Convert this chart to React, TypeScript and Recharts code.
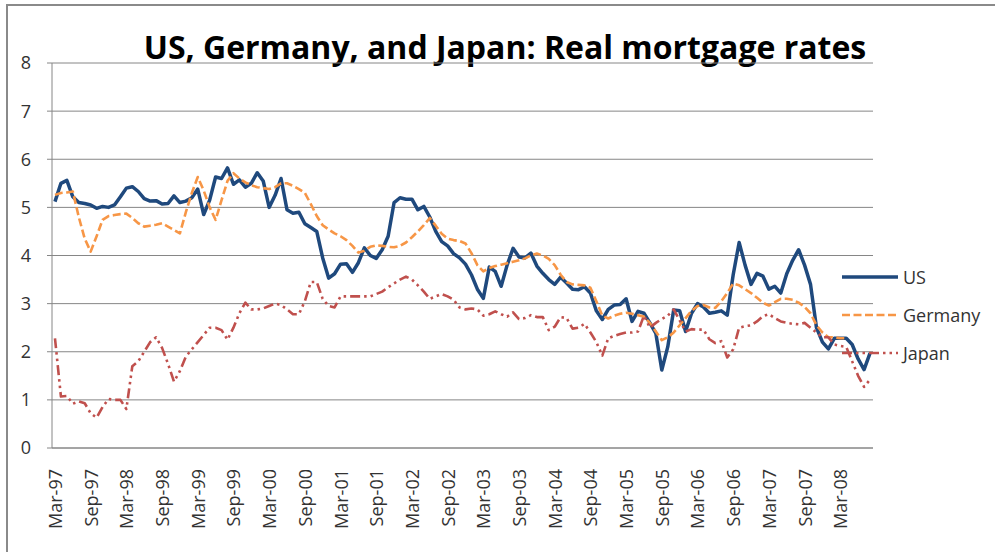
import { LineChart, Line, XAxis, YAxis, CartesianGrid, Legend } from 'recharts';

// monthly, Mar-97 .. Aug-08 (138 months)
const usRates = [
  5.12, 5.5, 5.56, 5.22, 5.1, 5.08, 5.05, 4.98, 5.02, 5.0, 5.05, 5.22,
  5.4, 5.43, 5.33, 5.18, 5.13, 5.14, 5.07, 5.08, 5.24, 5.1, 5.13, 5.2,
  5.38, 4.85, 5.15, 5.63, 5.6, 5.82, 5.48, 5.57, 5.42, 5.5, 5.72, 5.55,
  5.0, 5.25, 5.6, 4.95, 4.88, 4.9, 4.66, 4.58, 4.5, 3.95, 3.53, 3.62,
  3.82, 3.83, 3.65, 3.85, 4.16, 4.0, 3.94, 4.12, 4.4, 5.1, 5.2, 5.17,
  5.17, 4.95, 5.02, 4.8, 4.5, 4.29, 4.2, 4.04, 3.95, 3.82, 3.6, 3.3,
  3.11, 3.76, 3.67, 3.36, 3.8, 4.15, 3.97, 3.95, 4.05, 3.78, 3.63, 3.5,
  3.4, 3.55, 3.43, 3.3, 3.29, 3.35, 3.22, 2.85, 2.67, 2.88, 2.97, 2.98,
  3.1, 2.63, 2.84, 2.8, 2.6, 2.38, 1.62, 2.1, 2.87, 2.85, 2.42, 2.8,
  3.0, 2.93, 2.8, 2.82, 2.85, 2.76, 3.6, 4.27, 3.8, 3.4, 3.63, 3.57,
  3.3, 3.36, 3.22, 3.62, 3.9, 4.12, 3.8, 3.4, 2.5, 2.2, 2.06, 2.28,
  2.28, 2.28, 2.15, 1.85, 1.63, 1.97,
];

const germanyRates = [
  5.26, 5.3, 5.31, 5.33, 4.8, 4.35, 4.08, 4.4, 4.74, 4.82, 4.84, 4.86,
  4.87, 4.78, 4.67, 4.6, 4.62, 4.64, 4.67, 4.6, 4.53, 4.46, 4.9, 5.3,
  5.63, 5.35, 5.0, 4.74, 5.15, 5.55, 5.71, 5.6, 5.52, 5.46, 5.42, 5.4,
  5.38, 5.42, 5.5, 5.5, 5.45, 5.38, 5.3, 5.07, 4.82, 4.63, 4.54, 4.46,
  4.4, 4.32, 4.2, 4.06, 4.1, 4.18, 4.21, 4.2, 4.18, 4.17, 4.2, 4.27,
  4.38, 4.5, 4.63, 4.78, 4.62, 4.45, 4.35, 4.32, 4.3, 4.25, 4.05, 3.8,
  3.67, 3.74, 3.78, 3.81, 3.84, 3.87, 3.9, 3.94, 4.0, 4.04, 4.0, 3.93,
  3.8, 3.6, 3.45, 3.4, 3.39, 3.38, 3.33, 3.05, 2.75, 2.69, 2.75, 2.79,
  2.81, 2.79, 2.76, 2.73, 2.6, 2.42, 2.24, 2.3, 2.4, 2.55, 2.7, 2.85,
  2.95, 2.97, 2.92, 2.91, 3.05, 3.22, 3.42, 3.38, 3.3, 3.22, 3.12, 3.02,
  2.96, 3.03, 3.1, 3.1, 3.08, 3.02, 2.93, 2.8, 2.55, 2.4, 2.3, 2.3,
  2.28, 2.28, null, null, null, null,
];

const japanRates = [
  2.28, 1.07, 1.08, 0.92, 0.97, 0.93, 0.72, 0.63, 0.85, 1.02, 1.0, 1.0,
  0.81, 1.7, 1.8, 2.0, 2.2, 2.3, 2.08, 1.75, 1.38, 1.6, 1.9, 2.05,
  2.2, 2.35, 2.5, 2.5, 2.45, 2.25, 2.5, 2.8, 3.02, 2.88, 2.88, 2.9,
  2.95, 3.0, 2.97, 2.88, 2.78, 2.78, 3.05, 3.45, 3.45, 3.1, 2.95, 2.92,
  3.15, 3.15, 3.15, 3.15, 3.15, 3.15, 3.2, 3.25, 3.34, 3.42, 3.5, 3.56,
  3.5, 3.38, 3.25, 3.1, 3.15, 3.2, 3.15, 3.08, 2.92, 2.88, 2.9, 2.88,
  2.75, 2.78, 2.84, 2.78, 2.73, 2.82, 2.68, 2.7, 2.76, 2.72, 2.72, 2.45,
  2.52, 2.72, 2.7, 2.48, 2.5, 2.58, 2.4, 2.2, 1.92, 2.28, 2.33, 2.37,
  2.4, 2.4, 2.42, 2.75, 2.5, 2.6, 2.68, 2.75, 2.88, 2.65, 2.42, 2.47,
  2.46, 2.46, 2.26, 2.18, 2.22, 1.88, 2.05, 2.5, 2.53, 2.55, 2.63, 2.74,
  2.78, 2.7, 2.63, 2.6, 2.58, 2.57, 2.6, 2.5, 2.4, 2.3, 2.3, 2.15,
  2.12, 2.1, 1.8, 1.5, 1.27, 1.42,
];

// one label every 6 months
const monthLabels = [
  'Mar-97', 'Sep-97', 'Mar-98', 'Sep-98', 'Mar-99', 'Sep-99', 'Mar-00', 'Sep-00',
  'Mar-01', 'Sep-01', 'Mar-02', 'Sep-02', 'Mar-03', 'Sep-03', 'Mar-04', 'Sep-04',
  'Mar-05', 'Sep-05', 'Mar-06', 'Sep-06', 'Mar-07', 'Sep-07', 'Mar-08',
];

const yTicks = [0, 1, 2, 3, 4, 5, 6, 7, 8];

const FONT = '"Open Sans", sans-serif';
const GRID = '#868686';
const TEXT = '#333333';

const series = [
  { key: 'us', name: 'US', color: '#1F497D', width: 3.5, dash: undefined as string | undefined },
  { key: 'germany', name: 'Germany', color: '#F79646', width: 2.6, dash: '8 3.5' },
  { key: 'japan', name: 'Japan', color: '#C0504D', width: 2.6, dash: '10 4 2.5 4 2.5 4' },
];

const data = usRates.map((us, i) => ({
  i,
  us,
  germany: germanyRates[i],
  japan: japanRates[i],
}));

const n = usRates.length;
const labelIdx = monthLabels.map((_, k) => k * 6);
const tickBounds = Array.from({ length: Math.floor(n / 6) + 1 }, (_, k) => k * 6 - 0.5);

function MonthTick(props: any) {
  const { x, y, payload } = props;
  const label = monthLabels[Math.round(payload.value / 6)];
  return (
    <text
      x={x}
      y={y}
      transform={`rotate(-90, ${x}, ${y})`}
      textAnchor="end"
      dominantBaseline="central"
      fontSize={18}
      fontFamily={FONT}
      fill={TEXT}
    >
      {label}
    </text>
  );
}

function LegendBox() {
  return (
    <div style={{ fontFamily: FONT, fontSize: 18, color: TEXT }}>
      {series.map((s) => (
        <div key={s.key} style={{ height: 38, display: 'flex', alignItems: 'center' }}>
          <svg width={56} height={10} style={{ display: 'block' }}>
            <line
              x1={0}
              y1={5}
              x2={56}
              y2={5}
              stroke={s.color}
              strokeWidth={s.width}
              strokeDasharray={s.dash}
            />
          </svg>
          <span style={{ marginLeft: 5, lineHeight: '20px' }}>{s.name}</span>
        </div>
      ))}
    </div>
  );
}

export default function App() {
  return (
    <div
      style={{
        position: 'absolute',
        left: 0,
        top: 0,
        width: 995,
        height: 552,
        overflow: 'hidden',
        background: '#fff',
      }}
    >
      <div
        style={{
          position: 'absolute',
          left: 6,
          top: 4,
          width: 1020,
          height: 600,
          border: '2px solid #8a8a8a',
        }}
      />
      <div
        style={{
          position: 'absolute',
          left: 0,
          width: 1010,
          top: 28,
          textAlign: 'center',
          fontFamily: FONT,
          fontWeight: 700,
          fontSize: 32,
          lineHeight: '38px',
          color: '#000',
        }}
      >
        US, Germany, and Japan: Real mortgage rates
      </div>
      <div style={{ position: 'absolute', left: 0, top: 0 }}>
        <LineChart
          width={995}
          height={552}
          data={data}
          margin={{ top: 63, right: 122, bottom: 0, left: 12 }}
        >
          <CartesianGrid xAxisId="a" vertical={false} stroke={GRID} strokeWidth={1} />
          <XAxis
            xAxisId="a"
            dataKey="i"
            type="number"
            domain={[-0.5, n - 0.5]}
            ticks={tickBounds}
            interval={0}
            tick={false}
            tickSize={5}
            height={6}
            stroke={GRID}
          />
          <XAxis
            xAxisId="b"
            dataKey="i"
            type="number"
            domain={[-0.5, n - 0.5]}
            ticks={labelIdx}
            interval={0}
            axisLine={false}
            tickLine={false}
            tickSize={0}
            tickMargin={15}
            height={98}
            tick={<MonthTick />}
          />
          <YAxis
            domain={[0, 8]}
            ticks={yTicks}
            interval={0}
            width={40}
            tickSize={5}
            tickMargin={16}
            stroke={GRID}
            tick={{ fontSize: 18, fontFamily: FONT, fill: TEXT }}
          />
          <Legend
            layout="vertical"
            align="center"
            verticalAlign="middle"
            content={<LegendBox />}
            wrapperStyle={{ left: 842, top: 258, width: 150, height: 114 }}
          />
          {series.map((s) => (
            <Line
              key={s.key}
              xAxisId="a"
              type="linear"
              dataKey={s.key}
              name={s.name}
              stroke={s.color}
              strokeWidth={s.width}
              strokeDasharray={s.dash}
              strokeLinejoin="round"
              dot={false}
              activeDot={false}
              isAnimationActive={false}
            />
          ))}
        </LineChart>
      </div>
    </div>
  );
}
